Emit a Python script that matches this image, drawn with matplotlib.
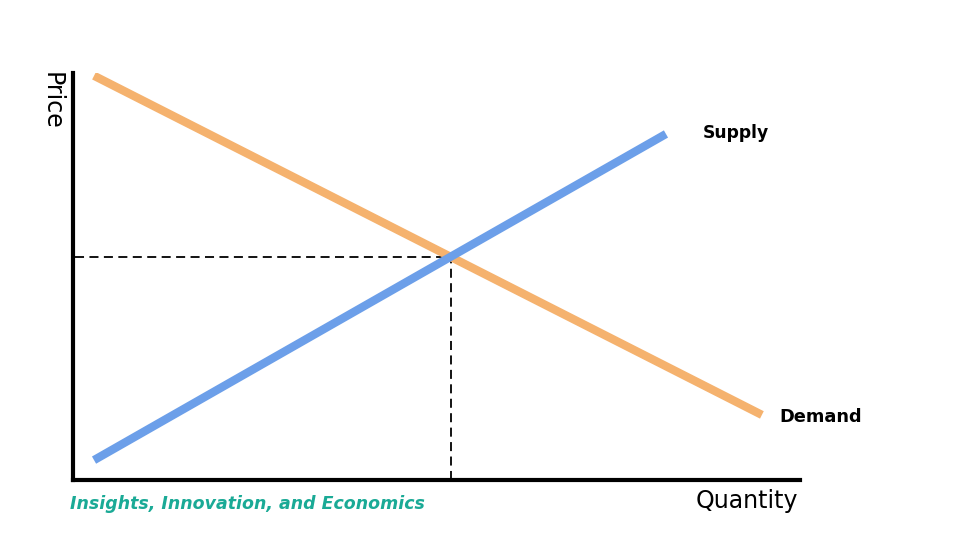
import numpy as np
import matplotlib.pyplot as plt

# supply / demand curves in axis units (0-100)
demand_x = [2.9, 94.8]
demand_y = [99.3, 16.0]
supply_x = [2.9, 81.6]
supply_y = [4.9, 85.0]
eq_x = 52.0
eq_y = 54.7

fig = plt.figure(figsize=(9.6, 5.4), dpi=100)
ax = fig.add_axes([0.076, 0.111, 0.757, 0.754])
ax.set_xlim(0, 100)
ax.set_ylim(0, 100)

ax.plot(demand_x, demand_y, color="#F5B26E", lw=6, solid_capstyle="butt")
ax.plot(supply_x, supply_y, color="#6C9FE9", lw=6, solid_capstyle="butt")
ax.plot([0.3, eq_x], [eq_y, eq_y], "k--", lw=1.3, dashes=(5, 3), zorder=0)
ax.plot([eq_x, eq_x], [0, eq_y], "k--", lw=1.3, dashes=(5, 3), zorder=0)

for s in ["top", "right"]:
    ax.spines[s].set_visible(False)
for s in ["left", "bottom"]:
    ax.spines[s].set_linewidth(3)
ax.set_xticks([])
ax.set_yticks([])

ax.text(86.7, 85.3, "Supply", fontsize=12.3, fontweight="bold",
        family="DejaVu Sans", ha="left", va="center")
ax.text(97.2, 15.6, "Demand", fontsize=12.8, fontweight="bold",
        family="DejaVu Sans", ha="left", va="center")

fig.text(0.054, 0.866, "Price", rotation=-90, fontsize=17,
         family="DejaVu Sans", ha="center", va="top")
fig.text(0.7785, 0.072, "Quantity", fontsize=17, family="DejaVu Sans",
         ha="center", va="center")
fig.text(0.073, 0.067, "Insights, Innovation, and Economics", fontsize=12.5,
         fontweight="bold", style="italic", color="#1AAA96",
         family="DejaVu Sans", ha="left", va="center")

fig.savefig("out.png", dpi=100)
